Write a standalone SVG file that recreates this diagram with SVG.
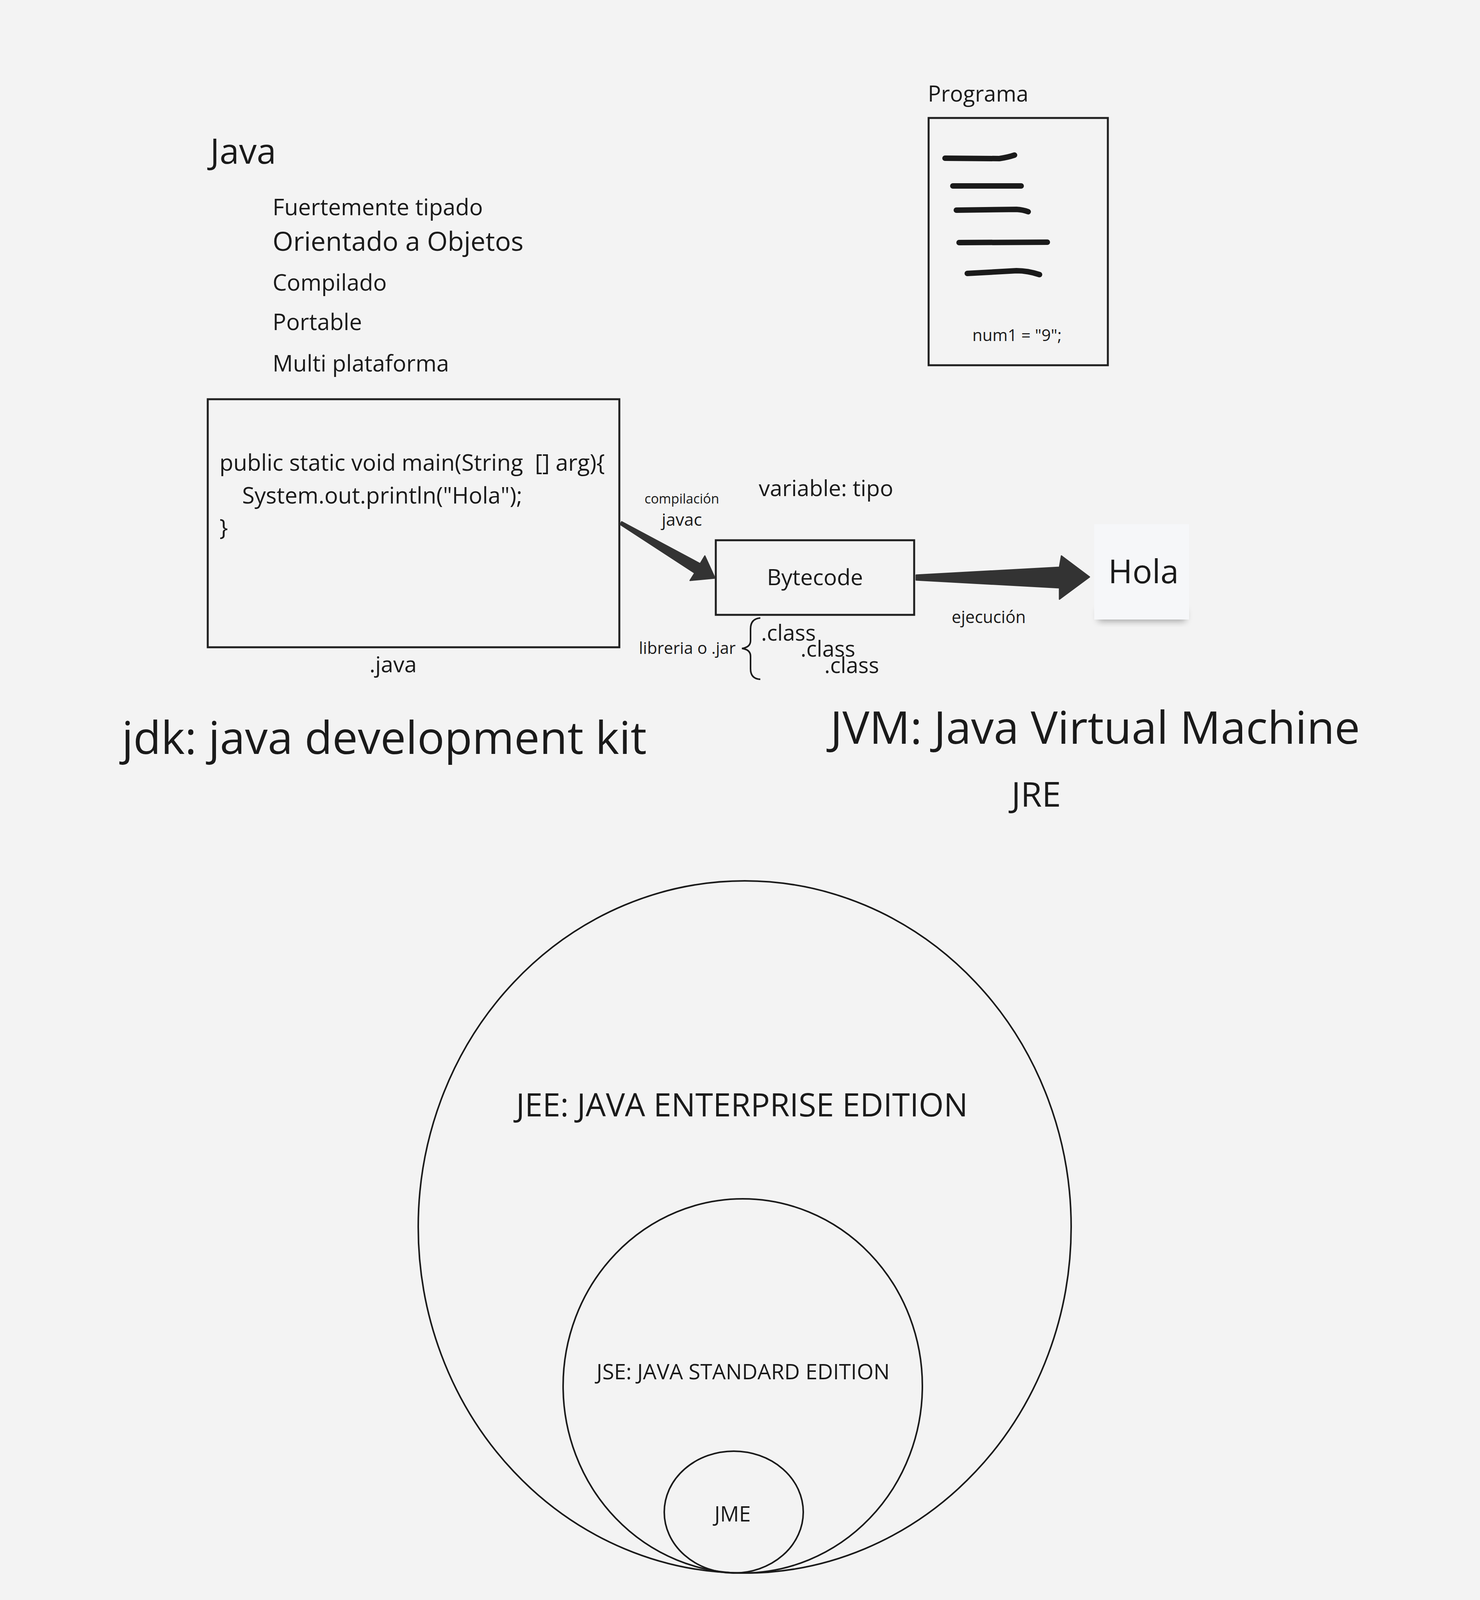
<svg xmlns="http://www.w3.org/2000/svg" width="3790" height="4220" viewBox="0 0 3790 4220">
<style>
text{font-family:"Open Sans","Noto Sans","Liberation Sans",sans-serif;fill:#1a1a1a;white-space:pre}
.box{fill:none;stroke:#1f1f1f;stroke-width:5}
.ring{fill:none;stroke:#1a1a1a;stroke-width:4}
.ink{fill:none;stroke:#1a1a1a;stroke-width:14;stroke-linecap:round;stroke-linejoin:round}
.arrow{fill:#333333;stroke:#333333;stroke-width:3;stroke-linejoin:round}
.mid{text-anchor:middle}
</style>
<defs>
<filter id="shadow" x="-20%" y="-50%" width="140%" height="200%">
<feGaussianBlur stdDeviation="9"/>
</filter>
</defs>
<rect width="3790" height="4220" fill="#f3f3f3"/>

<g id="java-title">
<text x="538" y="419" font-size="90">Java</text>
<text x="698" y="551" font-size="58">Fuertemente tipado</text>
<text x="698" y="642" font-size="68">Orientado a Objetos</text>
<text x="698" y="744" font-size="58">Compilado</text>
<text x="698" y="845" font-size="58">Portable</text>
<text x="698" y="951" font-size="58">Multi plataforma</text>
</g>

<g id="programa">
<text x="2376" y="260" font-size="56">Programa</text>
<rect class="box" x="2378" y="302" width="459" height="633"/>
<path class="ink" d="M2420 405 L2559 406 Q2580 403 2598 397"/>
<path class="ink" d="M2440 476 L2615 476"/>
<path class="ink" d="M2449 538 L2603 536 Q2620 537 2633 542"/>
<path class="ink" d="M2456 621 L2682 620"/>
<path class="ink" d="M2477 700 L2603 693 Q2632 693 2662 703"/>
<text x="2490" y="873" font-size="42">num1 = "9";</text>
</g>

<g id="java-source">
<rect class="box" x="532" y="1022" width="1054" height="635"/>
<text x="562" y="1205" font-size="58" xml:space="preserve">public static void main(String  [] arg){</text>
<text x="620" y="1289" font-size="58">System.out.println("Hola");</text>
<text x="562" y="1371" font-size="58">}</text>
<text x="946" y="1721" font-size="57">.java</text>
</g>

<g id="bytecode">
<rect class="box" x="1833" y="1383" width="508" height="191"/>
<text class="mid" x="2087" y="1498" font-size="57">Bytecode</text>
</g>

<g id="hola">
<rect x="2812" y="1560" width="224" height="30" fill="#000" opacity="0.35" filter="url(#shadow)"/>
<rect x="2802" y="1342" width="243" height="244" fill="#f6f7f9"/>
<text x="2838" y="1493" font-size="84">Hola</text>
</g>

<g id="labels">
<text x="1943" y="1270" font-size="57">variable: tipo</text>
<text class="mid" x="1746" y="1289" font-size="34">compilación</text>
<text class="mid" x="1746" y="1346" font-size="44">javac</text>
<text class="mid" x="2532" y="1595" font-size="43">ejecución</text>
<text x="1636" y="1674" font-size="42">libreria o .jar</text>
<text x="1949" y="1640" font-size="56">.class</text>
<text x="2050" y="1681" font-size="56">.class</text>
<text x="2111" y="1723" font-size="56">.class</text>
<path d="M1947 1582 Q1922 1584 1922 1610 L1922 1640 Q1922 1657 1900 1660 Q1922 1663 1922 1680 L1922 1712 Q1922 1738 1947 1739" fill="none" stroke="#1a1a1a" stroke-width="4"/>
</g>

<g id="headings">
<text x="312" y="1930" font-size="116">jdk: java development kit</text>
<text x="2126" y="1904" font-size="116">JVM: Java Virtual Machine</text>
<text x="2590" y="2065" font-size="88">JRE</text>
</g>

<g id="jee">
<ellipse class="ring" cx="1907" cy="3141" rx="836" ry="886"/>
<text class="mid" x="1900" y="2858" font-size="82">JEE: JAVA ENTERPRISE EDITION</text>
</g>
<g id="jse">
<ellipse class="ring" cx="1902" cy="3548" rx="460" ry="479"/>
<text class="mid" x="1903" y="3531" font-size="55">JSE: JAVA STANDARD EDITION</text>
</g>
<g id="jme">
<ellipse class="ring" cx="1879" cy="3871" rx="178" ry="156"/>
<text class="mid" x="1876" y="3895" font-size="54">JME</text>
</g>

<g id="connectors">
<polygon class="arrow" points="1592,1335.5 1793,1443 1805,1423 1831,1480 1767,1486 1779,1467 1588,1342.5"/>
<polygon class="arrow" points="2346,1472 2713,1452 2718,1423 2790,1477 2713,1534 2713,1505 2346,1485"/>
</g>
</svg>
